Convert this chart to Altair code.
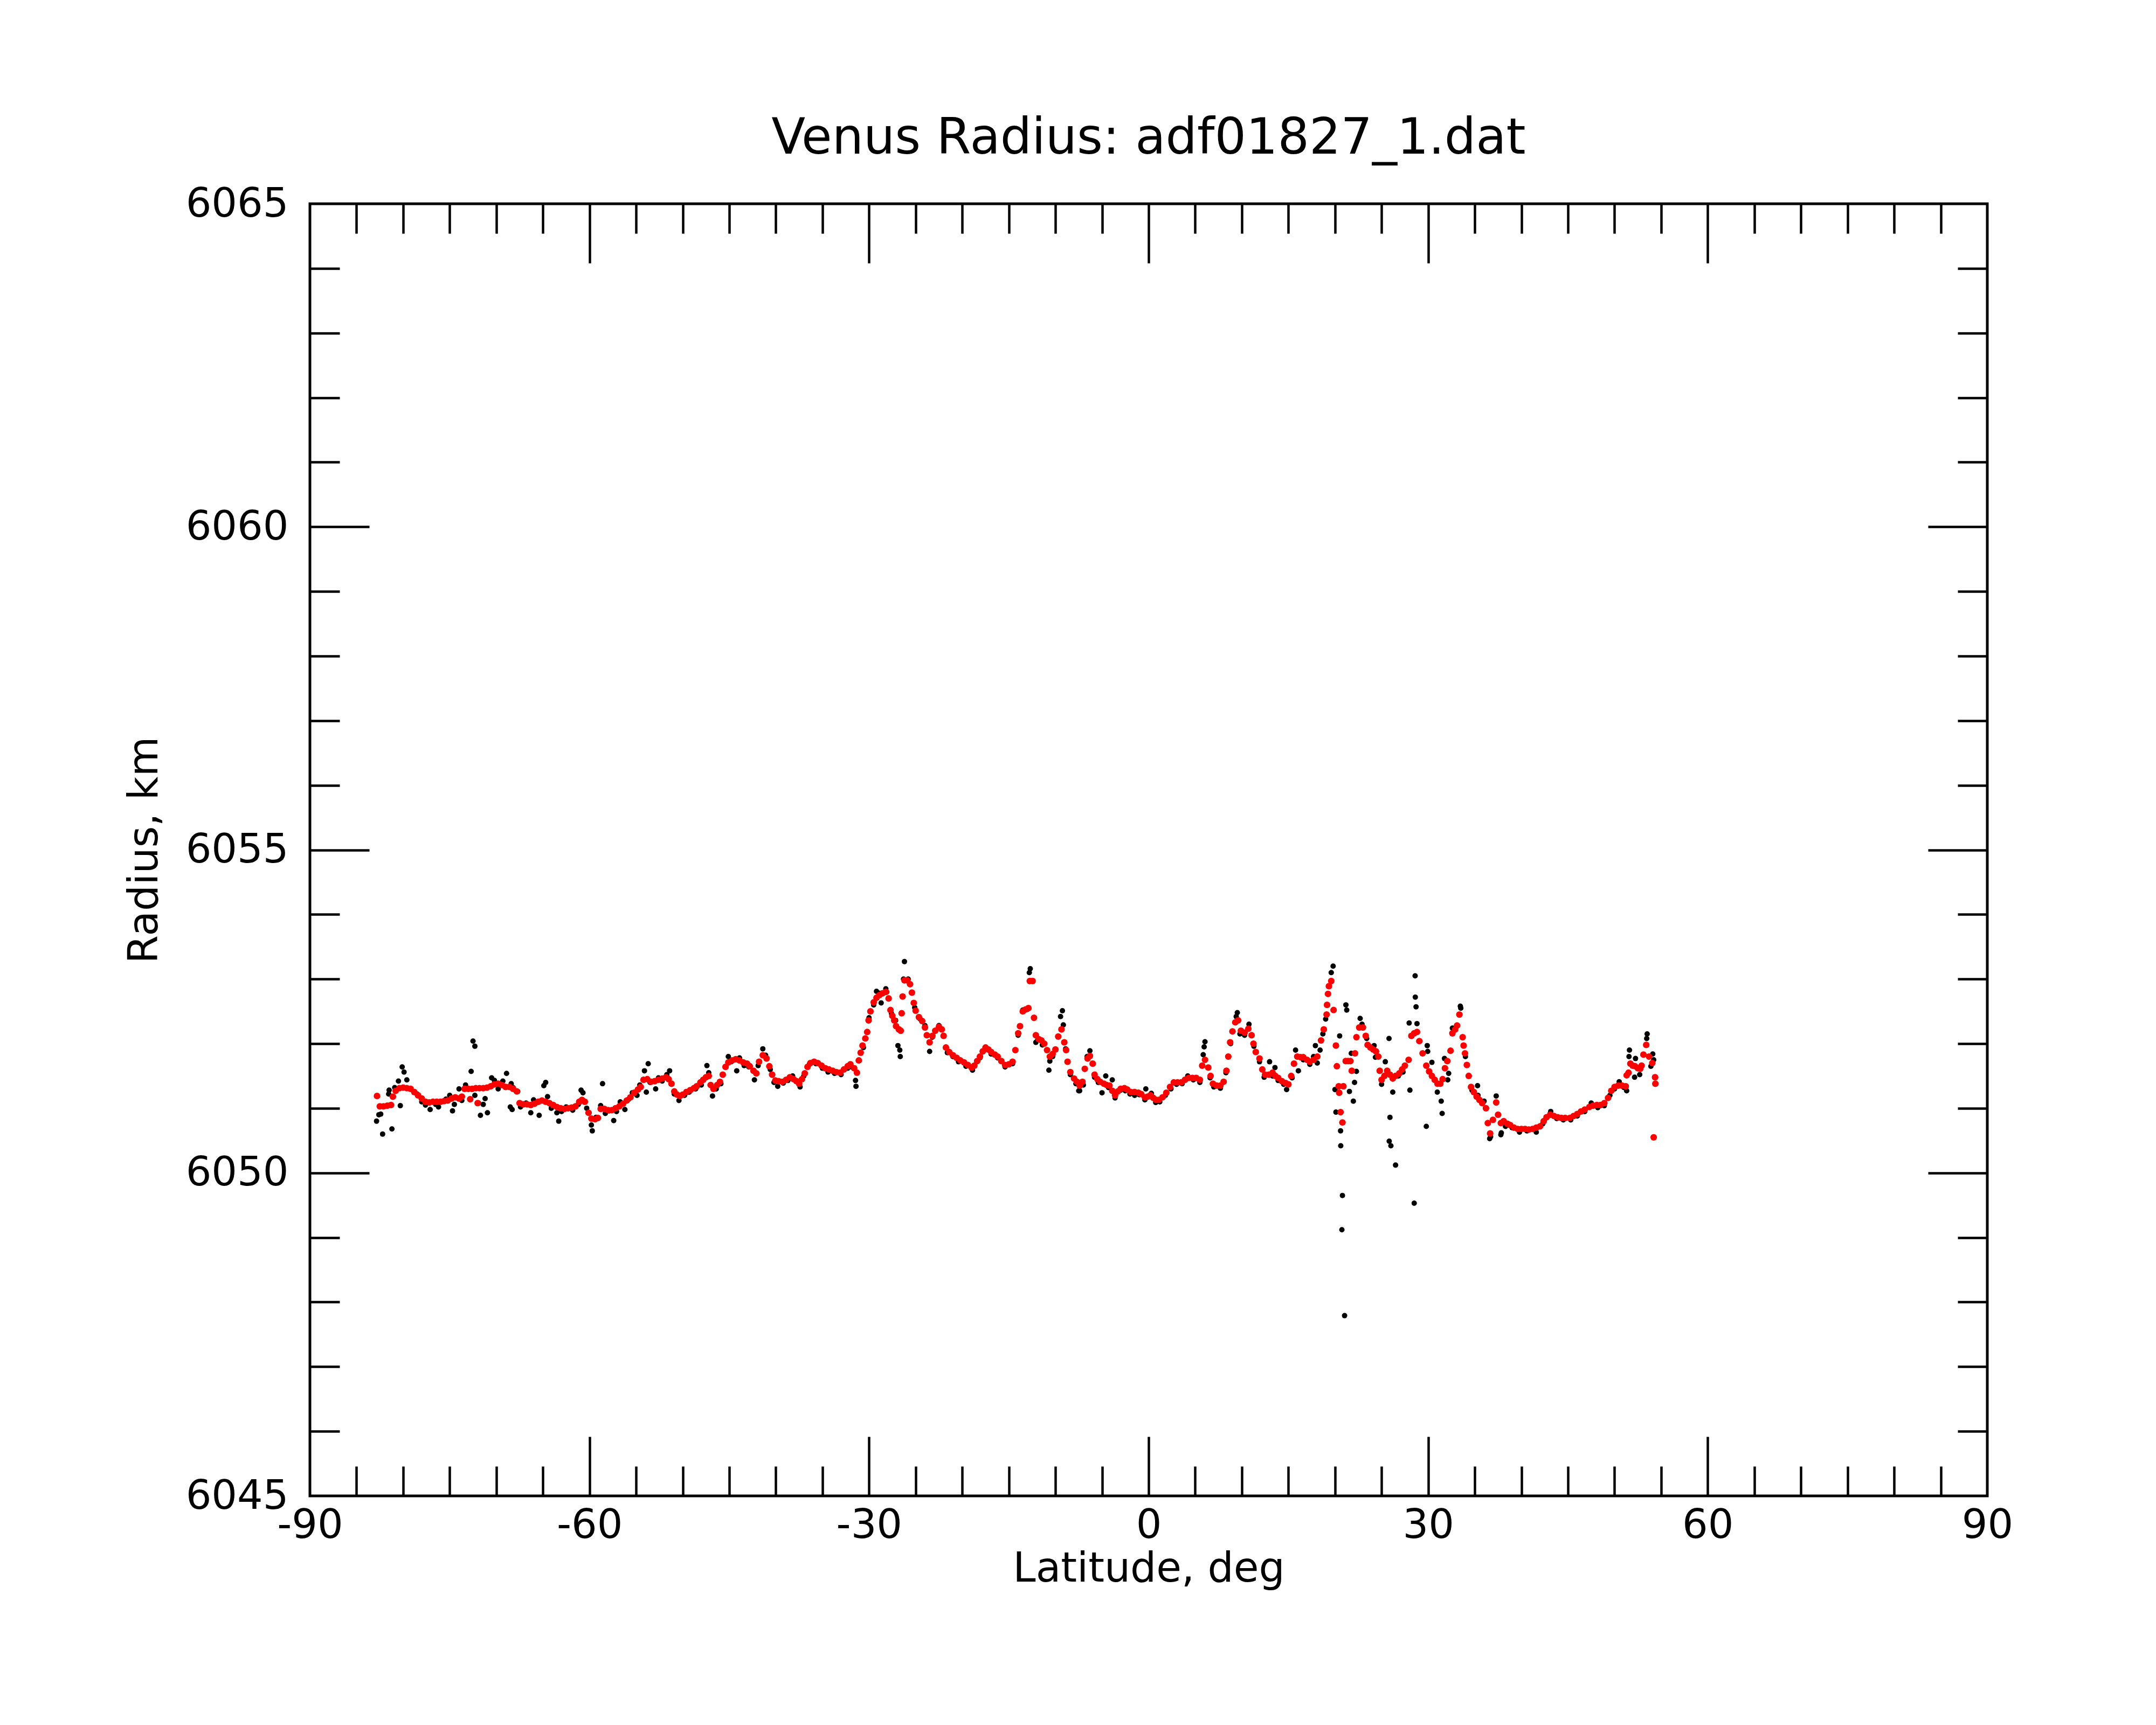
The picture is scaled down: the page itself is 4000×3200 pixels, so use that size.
import altair as alt
import pandas as pd

TITLE = "Venus Radius: adf01827_1.dat"
X_TITLE = "Latitude, deg"
Y_TITLE = "Radius, km"
FONT = "DejaVu Sans"

x_domain = [-90, 90]
y_domain = [6045, 6065]
x_label_values = [-90, -60, -30, 0, 30, 60, 90]
y_label_values = [6045, 6050, 6055, 6060, 6065]
x_tick_values = [-85, -80, -75, -70, -65, -60, -55, -50, -45, -40, -35, -30, -25, -20, -15, -10, -5,
                 0, 5, 10, 15, 20, 25, 30, 35, 40, 45, 50, 55, 60, 65, 70, 75, 80, 85]
y_tick_values = [6046, 6047, 6048, 6049, 6050, 6051, 6052, 6053, 6054, 6055,
                 6056, 6057, 6058, 6059, 6060, 6061, 6062, 6063, 6064]

# smoothed radius (red)
red_points = [
    (-82.8, 6051.19), (-82.5, 6051.03), (-82.1, 6051.03), (-81.7, 6051.04), (-81.3, 6051.05), (-81.1, 6051.18),
    (-80.8, 6051.27), (-80.4, 6051.31), (-80.0, 6051.32), (-79.6, 6051.31), (-79.2, 6051.30), (-78.8, 6051.25),
    (-78.4, 6051.20), (-78.0, 6051.15), (-77.6, 6051.10), (-77.2, 6051.09), (-76.8, 6051.10), (-76.4, 6051.10),
    (-76.0, 6051.10), (-75.6, 6051.11), (-75.2, 6051.12), (-74.8, 6051.15), (-74.4, 6051.17), (-74.0, 6051.15),
    (-73.7, 6051.18), (-73.4, 6051.30), (-73.0, 6051.30), (-72.8, 6051.14), (-72.6, 6051.30), (-72.2, 6051.31),
    (-72.0, 6051.08), (-71.8, 6051.31), (-71.4, 6051.31), (-71.0, 6051.32), (-70.6, 6051.34), (-70.2, 6051.37),
    (-69.8, 6051.38), (-69.4, 6051.36), (-69.0, 6051.33), (-68.6, 6051.33), (-68.2, 6051.30), (-67.8, 6051.26),
    (-67.5, 6051.08), (-67.1, 6051.06), (-66.7, 6051.06), (-66.3, 6051.05), (-65.9, 6051.07), (-65.5, 6051.10),
    (-65.1, 6051.12), (-64.7, 6051.10), (-64.3, 6051.08), (-63.9, 6051.05), (-63.5, 6051.02), (-63.1, 6051.00),
    (-62.7, 6050.99), (-62.3, 6051.00), (-61.9, 6051.01), (-61.5, 6051.03), (-61.1, 6051.10), (-60.8, 6051.13),
    (-60.5, 6051.10), (-60.1, 6050.93), (-59.8, 6050.84), (-59.4, 6050.83), (-59.1, 6050.85), (-58.8, 6050.99),
    (-58.4, 6050.99), (-58.0, 6050.97), (-57.6, 6050.97), (-57.2, 6051.00), (-56.8, 6051.03), (-56.4, 6051.07),
    (-56.0, 6051.12), (-55.6, 6051.17), (-55.2, 6051.24), (-54.8, 6051.29), (-54.5, 6051.33), (-54.2, 6051.44),
    (-53.8, 6051.45), (-53.4, 6051.41), (-53.0, 6051.42), (-52.6, 6051.44), (-52.2, 6051.46), (-51.8, 6051.48),
    (-51.5, 6051.45), (-51.2, 6051.38), (-50.9, 6051.26), (-50.6, 6051.21), (-50.3, 6051.19), (-50.0, 6051.21),
    (-49.6, 6051.25), (-49.2, 6051.28), (-48.8, 6051.31), (-48.5, 6051.34), (-48.1, 6051.40), (-47.8, 6051.44),
    (-47.5, 6051.48), (-47.2, 6051.50), (-47.0, 6051.36), (-46.7, 6051.30), (-46.3, 6051.36), (-46.0, 6051.41),
    (-45.7, 6051.52), (-45.4, 6051.64), (-45.1, 6051.71), (-44.7, 6051.74), (-44.3, 6051.76), (-43.9, 6051.74),
    (-43.5, 6051.71), (-43.1, 6051.69), (-42.8, 6051.65), (-42.4, 6051.58), (-42.1, 6051.54), (-41.8, 6051.72),
    (-41.4, 6051.82), (-41.0, 6051.77), (-40.7, 6051.65), (-40.4, 6051.52), (-40.05, 6051.43), (-39.7, 6051.42),
    (-39.3, 6051.41), (-38.9, 6051.44), (-38.5, 6051.48), (-38.1, 6051.45), (-37.8, 6051.42), (-37.5, 6051.38),
    (-37.2, 6051.45), (-36.9, 6051.54), (-36.6, 6051.64), (-36.3, 6051.70), (-35.9, 6051.72), (-35.5, 6051.70),
    (-35.1, 6051.66), (-34.7, 6051.62), (-34.3, 6051.60), (-33.9, 6051.58), (-33.5, 6051.56), (-33.1, 6051.55),
    (-32.7, 6051.60), (-32.3, 6051.65), (-32.0, 6051.68), (-31.6, 6051.62), (-31.3, 6051.55), (-31.1, 6051.74),
    (-30.9, 6051.86), (-30.7, 6051.97), (-30.4, 6052.08), (-30.2, 6052.18), (-30.05, 6052.36), (-29.85, 6052.50),
    (-29.5, 6052.64), (-29.2, 6052.71), (-28.9, 6052.75), (-28.55, 6052.78), (-28.2, 6052.80), (-27.9, 6052.70),
    (-27.7, 6052.52), (-27.5, 6052.43), (-27.3, 6052.36), (-27.1, 6052.27), (-26.8, 6052.22), (-26.6, 6052.20),
    (-26.5, 6052.47), (-26.4, 6052.73), (-26.2, 6052.98), (-25.9, 6052.98), (-25.6, 6052.92), (-25.4, 6052.79),
    (-25.2, 6052.63), (-25.0, 6052.51), (-24.65, 6052.41), (-24.3, 6052.35), (-24.0, 6052.25), (-23.8, 6052.13),
    (-23.5, 6052.02), (-23.2, 6052.12), (-22.9, 6052.20), (-22.5, 6052.26), (-22.2, 6052.22), (-22.0, 6052.12),
    (-21.75, 6051.94), (-21.4, 6051.87), (-21.0, 6051.82), (-20.6, 6051.78), (-20.2, 6051.74), (-19.8, 6051.71),
    (-19.4, 6051.67), (-19.0, 6051.63), (-18.7, 6051.66), (-18.4, 6051.73), (-18.1, 6051.80), (-17.8, 6051.88),
    (-17.5, 6051.94), (-17.2, 6051.91), (-16.9, 6051.87), (-16.5, 6051.83), (-16.2, 6051.80), (-15.8, 6051.73),
    (-15.4, 6051.67), (-15.0, 6051.68), (-14.6, 6051.72), (-14.3, 6051.90), (-14.0, 6052.16), (-13.8, 6052.27),
    (-13.5, 6052.50), (-13.2, 6052.53), (-12.9, 6052.55), (-12.75, 6052.97), (-12.45, 6052.97), (-12.3, 6052.40),
    (-12.1, 6052.13), (-11.8, 6052.07), (-11.5, 6052.05), (-11.2, 6052.00), (-10.9, 6051.90), (-10.6, 6051.80),
    (-10.3, 6051.84), (-10.0, 6051.91), (-9.7, 6052.11), (-9.35, 6052.22), (-9.05, 6052.02), (-8.85, 6051.90),
    (-8.7, 6051.72), (-8.4, 6051.56), (-8.0, 6051.46), (-7.7, 6051.41), (-7.4, 6051.35), (-7.1, 6051.41),
    (-6.85, 6051.61), (-6.55, 6051.77), (-6.3, 6051.81), (-6.0, 6051.69), (-5.8, 6051.52), (-5.5, 6051.45),
    (-5.2, 6051.41), (-4.8, 6051.38), (-4.5, 6051.36), (-4.2, 6051.35), (-3.9, 6051.27), (-3.6, 6051.20),
    (-3.3, 6051.26), (-3.0, 6051.30), (-2.6, 6051.31), (-2.3, 6051.29), (-1.9, 6051.25), (-1.5, 6051.25),
    (-1.1, 6051.24), (-0.8, 6051.22), (-0.4, 6051.17), (-0.1, 6051.18), (0.2, 6051.20), (0.5, 6051.16),
    (0.8, 6051.13), (1.1, 6051.13), (1.5, 6051.17), (1.9, 6051.24), (2.3, 6051.33), (2.7, 6051.40),
    (3.1, 6051.40), (3.5, 6051.40), (3.9, 6051.44), (4.3, 6051.47), (4.7, 6051.47), (5.1, 6051.47),
    (5.5, 6051.44), (5.75, 6051.66), (6.05, 6051.75), (6.4, 6051.63), (6.65, 6051.50), (6.9, 6051.38),
    (7.3, 6051.35), (7.7, 6051.35), (8.05, 6051.41), (8.35, 6051.58), (8.55, 6051.80), (8.75, 6052.02),
    (9.0, 6052.19), (9.3, 6052.33), (9.6, 6052.36), (9.9, 6052.20), (10.3, 6052.17), (10.7, 6052.23),
    (11.05, 6052.13), (11.25, 6052.00), (11.5, 6051.87), (11.9, 6051.77), (12.2, 6051.60), (12.5, 6051.52),
    (12.9, 6051.52), (13.3, 6051.55), (13.6, 6051.50), (13.9, 6051.47), (14.3, 6051.42), (14.7, 6051.39),
    (15.0, 6051.37), (15.3, 6051.50), (15.6, 6051.69), (15.95, 6051.80), (16.3, 6051.79), (16.6, 6051.79),
    (17.0, 6051.75), (17.3, 6051.72), (17.7, 6051.75), (18.1, 6051.80), (18.5, 6052.05), (18.8, 6052.22),
    (19.1, 6052.45), (19.15, 6052.60), (19.25, 6052.77), (19.35, 6052.89), (19.6, 6052.97), (19.85, 6052.52),
    (20.1, 6051.97), (20.2, 6051.65), (20.4, 6051.34), (20.45, 6051.24), (20.6, 6050.94), (20.8, 6050.78),
    (20.9, 6051.34), (21.15, 6051.73), (21.4, 6051.73), (21.65, 6051.73), (21.8, 6051.58), (22.15, 6051.85),
    (22.3, 6052.10), (22.6, 6052.25), (23.0, 6052.25), (23.3, 6052.12), (23.5, 6051.98), (23.8, 6051.94),
    (24.1, 6051.91), (24.4, 6051.88), (24.65, 6051.80), (24.8, 6051.58), (25.0, 6051.44), (25.3, 6051.50),
    (25.6, 6051.58), (25.9, 6051.52), (26.2, 6051.46), (26.5, 6051.50), (26.9, 6051.54), (27.2, 6051.60),
    (27.5, 6051.66), (27.9, 6051.75), (28.2, 6052.12), (28.5, 6052.16), (28.8, 6052.18), (29.05, 6052.04),
    (29.4, 6051.85), (29.8, 6051.66), (30.1, 6051.57), (30.4, 6051.50), (30.7, 6051.44), (31.0, 6051.38),
    (31.3, 6051.38), (31.55, 6051.45), (31.8, 6051.62), (32.05, 6051.73), (32.4, 6051.89), (32.6, 6052.16),
    (32.9, 6052.22), (33.1, 6052.28), (33.35, 6052.45), (33.7, 6052.10), (33.8, 6051.97), (33.95, 6051.85),
    (34.15, 6051.67), (34.35, 6051.50), (34.6, 6051.33), (34.9, 6051.25), (35.2, 6051.18), (35.5, 6051.13),
    (35.8, 6051.08), (36.2, 6051.00), (36.4, 6050.77), (36.65, 6050.61), (36.95, 6050.82), (37.3, 6051.09),
    (37.5, 6050.90), (37.8, 6050.77), (38.1, 6050.80), (38.5, 6050.76), (38.8, 6050.74), (39.2, 6050.70),
    (39.6, 6050.68), (40.0, 6050.68), (40.4, 6050.68), (40.8, 6050.67), (41.2, 6050.68), (41.6, 6050.70),
    (42.0, 6050.72), (42.4, 6050.80), (42.7, 6050.86), (43.1, 6050.90), (43.5, 6050.88), (43.9, 6050.86),
    (44.3, 6050.85), (44.7, 6050.85), (45.2, 6050.85), (45.6, 6050.88), (46.0, 6050.91), (46.4, 6050.95),
    (46.8, 6050.98), (47.3, 6051.02), (47.7, 6051.04), (48.1, 6051.05), (48.5, 6051.05), (48.9, 6051.08),
    (49.3, 6051.16), (49.65, 6051.27), (50.0, 6051.33), (50.4, 6051.35), (50.8, 6051.35), (51.2, 6051.34),
    (51.3, 6051.51), (51.5, 6051.55), (51.7, 6051.69), (51.95, 6051.66), (52.2, 6051.65), (52.5, 6051.62),
    (52.75, 6051.61), (52.9, 6051.66), (53.1, 6051.83), (53.4, 6051.98), (53.7, 6051.80), (54.05, 6051.70),
    (54.35, 6051.48), (54.38, 6051.38), (54.2, 6050.55),
]

# raw radius samples (black)
black_points = [
    (-82.85, 6050.80), (-82.6, 6050.90), (-82.4, 6050.91), (-82.2, 6050.60), (-81.55, 6051.22), (-81.5, 6051.28),
    (-81.2, 6050.68), (-80.9, 6051.32), (-80.5, 6051.42), (-80.3, 6051.04), (-80.1, 6051.64), (-79.9, 6051.56),
    (-79.6, 6051.44), (-79.2, 6051.30), (-78.5, 6051.22), (-78.0, 6051.10), (-77.6, 6051.05), (-77.1, 6050.98),
    (-76.5, 6051.06), (-76.2, 6051.02), (-75.4, 6051.14), (-75.0, 6051.20), (-74.7, 6050.96), (-74.5, 6051.06),
    (-74.0, 6051.30), (-73.7, 6051.12), (-73.3, 6051.36), (-72.7, 6051.57), (-72.5, 6052.04), (-72.3, 6051.96),
    (-72.3, 6051.20), (-71.9, 6051.08), (-71.7, 6050.89), (-71.4, 6051.06), (-71.2, 6051.15), (-70.95, 6050.93),
    (-70.5, 6051.47), (-70.2, 6051.43), (-69.8, 6051.30), (-69.3, 6051.42), (-68.9, 6051.54), (-68.5, 6051.02),
    (-68.4, 6051.38), (-68.3, 6050.98), (-68.2, 6051.32), (-67.7, 6051.26), (-67.4, 6051.02), (-66.8, 6051.08),
    (-66.3, 6050.93), (-66.0, 6051.13), (-65.4, 6050.89), (-64.9, 6051.35), (-64.7, 6051.40), (-64.5, 6051.18),
    (-64.1, 6051.00), (-63.5, 6050.93), (-63.3, 6050.80), (-63.0, 6050.95), (-62.5, 6051.02), (-61.8, 6050.97),
    (-61.2, 6051.06), (-60.9, 6051.28), (-60.7, 6051.24), (-60.3, 6051.00), (-59.8, 6050.74), (-59.7, 6050.65),
    (-59.3, 6050.86), (-58.8, 6051.04), (-58.6, 6051.38), (-58.3, 6050.92),
    (-57.9, 6050.96), (-57.4, 6050.81), (-57.1, 6050.95), (-56.7, 6051.10), (-56.2, 6050.98), (-55.8, 6051.14),
    (-55.4, 6051.24), (-54.9, 6051.20), (-54.6, 6051.36), (-54.1, 6051.58), (-53.9, 6051.25), (-53.7, 6051.69),
    (-53.5, 6051.40), (-52.9, 6051.30), (-52.6, 6051.47), (-52.2, 6051.42), (-51.7, 6051.52), (-51.4, 6051.58),
    (-50.9, 6051.22), (-50.4, 6051.12), (-49.8, 6051.20), (-49.3, 6051.25), (-48.6, 6051.30), (-48.0, 6051.36),
    (-47.4, 6051.66), (-47.2, 6051.55), (-46.8, 6051.19), (-46.4, 6051.30), (-45.9, 6051.38), (-45.1, 6051.80),
    (-44.8, 6051.72), (-44.2, 6051.58), (-43.9, 6051.78), (-43.4, 6051.66), (-42.9, 6051.64), (-42.3, 6051.44),
    (-41.9, 6051.66), (-41.4, 6051.92), (-41.1, 6051.82), (-40.6, 6051.60), (-40.2, 6051.40), (-39.8, 6051.34),
    (-39.2, 6051.39), (-38.7, 6051.43), (-38.2, 6051.50), (-37.4, 6051.33), (-37.0, 6051.50), (-36.4, 6051.68),
    (-35.7, 6051.69), (-35.0, 6051.62), (-34.4, 6051.56), (-33.7, 6051.54),
    (-33.0, 6051.52), (-32.3, 6051.62), (-31.9, 6051.64), (-31.45, 6051.43), (-31.4, 6051.34), (-30.6, 6051.94),
    (-30.0, 6052.40), (-29.5, 6052.60), (-29.2, 6052.81), (-28.9, 6052.78), (-28.7, 6052.63), (-28.2, 6052.85),
    (-28.1, 6052.80), (-27.6, 6052.47), (-27.15, 6052.36), (-26.9, 6051.97), (-26.7, 6051.90), (-26.65, 6051.80),
    (-26.3, 6053.00), (-26.2, 6053.27), (-25.8, 6053.00), (-25.1, 6052.56), (-24.5, 6052.38), (-24.0, 6052.28),
    (-23.5, 6051.88), (-23.2, 6052.10), (-22.5, 6052.28), (-22.0, 6052.12), (-21.6, 6051.86), (-21.0, 6051.80),
    (-20.4, 6051.72), (-19.6, 6051.65), (-18.9, 6051.59), (-18.1, 6051.78), (-17.5, 6051.93), (-16.9, 6051.84),
    (-16.2, 6051.78), (-15.4, 6051.64), (-14.6, 6051.69), (-14.0, 6052.13), (-13.5, 6052.52), (-13.0, 6052.53),
    (-12.8, 6053.10), (-12.7, 6053.16), (-12.1, 6052.02), (-11.9, 6052.06), (-11.4, 6051.98), (-10.7, 6051.59),
    (-10.6, 6051.73), (-10.3, 6051.80), (-9.45, 6052.42), (-9.25, 6052.51), (-9.15, 6052.29), (-8.9, 6051.92),
    (-8.4, 6051.52), (-7.8, 6051.38), (-7.5, 6051.27), (-7.4, 6051.27),
    (-7.0, 6051.36), (-6.6, 6051.80), (-6.3, 6051.89), (-5.8, 6051.48), (-5.4, 6051.40), (-5.0, 6051.24),
    (-4.6, 6051.50), (-4.3, 6051.32), (-3.9, 6051.44), (-3.6, 6051.16), (-3.0, 6051.28), (-2.5, 6051.27),
    (-2.0, 6051.22), (-1.5, 6051.20), (-1.0, 6051.21), (-0.4, 6051.13), (-0.3, 6051.30),
    (0.3, 6051.23), (0.76, 6051.09), (1.2, 6051.10), (1.8, 6051.20), (2.4, 6051.30), (3.0, 6051.37),
    (3.6, 6051.38), (4.2, 6051.50), (4.8, 6051.44), (5.5, 6051.40), (5.86, 6051.83), (5.96, 6051.95),
    (6.05, 6052.03), (6.6, 6051.47), (7.0, 6051.33), (7.7, 6051.31), (8.3, 6051.55), (8.8, 6052.00),
    (9.4, 6052.42), (9.52, 6052.48), (9.8, 6052.15), (10.3, 6052.13), (10.77, 6052.30), (11.3, 6051.96),
    (11.9, 6051.72), (12.4, 6051.48), (12.98, 6051.72), (13.3, 6051.50), (13.56, 6051.63), (13.9, 6051.43),
    (14.5, 6051.37), (14.81, 6051.29), (15.4, 6051.47), (15.77, 6051.90), (16.07, 6051.58), (16.6, 6051.75),
    (17.3, 6051.68), (17.7, 6051.80), (17.9, 6051.97),
    (18.1, 6051.70), (18.4, 6051.90), (18.7, 6052.15), (19.0, 6052.38), (19.6, 6053.10), (19.8, 6053.20),
    (20.0, 6051.29), (20.1, 6050.94), (20.5, 6052.12), (20.6, 6050.65), (20.62, 6050.42), (20.74, 6049.12),
    (20.8, 6049.65), (21.03, 6047.79), (21.17, 6052.60), (21.26, 6052.52), (21.55, 6051.26), (21.75, 6051.85),
    (21.97, 6051.11), (22.1, 6051.40), (22.3, 6051.57), (22.7, 6052.39), (22.9, 6052.30), (23.4, 6052.08),
    (24.2, 6051.97), (24.34, 6051.79), (25.0, 6051.37), (25.4, 6051.72), (25.8, 6052.08), (25.82, 6050.49),
    (25.9, 6050.86), (26.0, 6050.42), (26.2, 6051.25), (26.5, 6050.12), (26.8, 6051.50), (27.3, 6051.56),
    (27.96, 6052.32), (28.04, 6051.28), (28.5, 6049.53), (28.6, 6053.05), (28.62, 6052.72), (28.7, 6052.57),
    (28.8, 6052.31), (29.8, 6050.72), (29.9, 6051.97), (29.95, 6051.88), (30.4, 6051.71), (30.98, 6051.25),
    (31.4, 6051.11), (31.5, 6050.92), (31.75, 6051.77), (32.1, 6051.44), (32.2, 6051.54), (32.6, 6052.24),
    (33.45, 6052.58), (33.5, 6052.55), (34.0, 6051.80), (34.7, 6051.28), (35.3, 6051.35), (35.35, 6051.20),
    (36.0, 6051.11), (36.6, 6050.53), (36.7, 6050.56), (37.3, 6051.19), (37.8, 6050.59), (37.85, 6050.62),
    (38.3, 6050.72), (39.0, 6050.70), (39.8, 6050.63), (40.6, 6050.65), (41.6, 6050.63), (42.3, 6050.76),
    (43.1, 6050.92), (43.15, 6050.95),
    (43.8, 6050.84), (44.5, 6050.82), (45.3, 6050.82), (46.0, 6050.88), (46.8, 6050.95), (47.5, 6051.08),
    (48.2, 6051.01), (48.9, 6051.04), (49.5, 6051.20), (50.0, 6051.30), (50.5, 6051.41), (51.0, 6051.32),
    (51.3, 6051.27), (51.55, 6051.80), (51.6, 6051.90), (52.15, 6051.48), (52.25, 6051.77), (52.7, 6051.52),
    (53.45, 6052.08), (53.5, 6052.15), (53.9, 6051.65), (54.1, 6051.84), (54.2, 6051.75),
]

W, H = 3112, 2397

red_df = pd.DataFrame(red_points, columns=["lat", "radius"])
black_df = pd.DataFrame(black_points, columns=["lat", "radius"])

xs = alt.Scale(domain=x_domain, nice=False, zero=False)
ys = alt.Scale(domain=y_domain, nice=False, zero=False)

label_style = dict(labelFont=FONT, labelFontSize=75, labelColor="black", labelLimit=1000,
                   titleFont=FONT, titleFontSize=76, titleFontWeight="normal", titleColor="black",
                   grid=False, domain=False, ticks=False, tickSize=0, labelFlush=False,
                   labelExpr="datum.value + ''")

x_label_axis = alt.Axis(orient="bottom", values=x_label_values, labelPadding=18, titlePadding=6, **label_style)
y_label_axis = alt.Axis(orient="left", values=y_label_values, labelPadding=40, titlePadding=68, **label_style)

x_tick_size = {"condition": {"test": "datum.value % 30 === 0", "value": 110}, "value": 55}
y_tick_size = {"condition": {"test": "datum.value % 5 === 0", "value": 110}, "value": 55}
tick_style = dict(labels=False, domain=False, grid=False, ticks=True, tickColor="black", tickWidth=4.5)

# inward ticks: each axis is oriented to the opposite side and moved across the plot
x_ticks_bottom = alt.Axis(orient="top", offset=-H, values=x_tick_values, tickSize=x_tick_size, **tick_style)
x_ticks_top = alt.Axis(orient="bottom", offset=-H, values=x_tick_values, tickSize=x_tick_size, **tick_style)
y_ticks_left = alt.Axis(orient="right", offset=-W, values=y_tick_values, tickSize=y_tick_size, **tick_style)
y_ticks_right = alt.Axis(orient="left", offset=-W, values=y_tick_values, tickSize=y_tick_size, **tick_style)

black_south = alt.Chart(black_df).transform_filter("datum.lat < 0").mark_circle(
    size=100, color="#000000", opacity=1
).encode(
    x=alt.X("lat:Q", scale=xs, axis=x_label_axis, title=X_TITLE),
    y=alt.Y("radius:Q", scale=ys, axis=y_label_axis, title=Y_TITLE),
)

black_north = alt.Chart(black_df).transform_filter("datum.lat >= 0").mark_circle(
    size=100, color="#000000", opacity=1
).encode(
    x=alt.X("lat:Q", scale=xs, axis=x_ticks_bottom, title=None),
    y=alt.Y("radius:Q", scale=ys, axis=y_ticks_left, title=None),
)

red = alt.Chart(red_df).mark_circle(size=150, color="#ff0000", opacity=1).encode(
    x=alt.X("lat:Q", scale=xs, axis=x_ticks_top, title=None),
    y=alt.Y("radius:Q", scale=ys, axis=y_ticks_right, title=None),
)

chart = alt.layer(black_south, black_north, red).resolve_axis(
    x="independent", y="independent"
).properties(
    width=W,
    height=H,
    title=alt.TitleParams(TITLE, font=FONT, fontSize=92, fontWeight="normal", color="black",
                          anchor="middle", frame="group", baseline="alphabetic", offset=-36),
    autosize=alt.AutoSizeParams(type="none"),
    padding={"left": 567, "top": 370, "right": 300, "bottom": 417},
    background="white",
).configure_view(stroke="black", strokeWidth=5)

chart.save("out.html", embed_options={"renderer": "svg", "actions": False})
